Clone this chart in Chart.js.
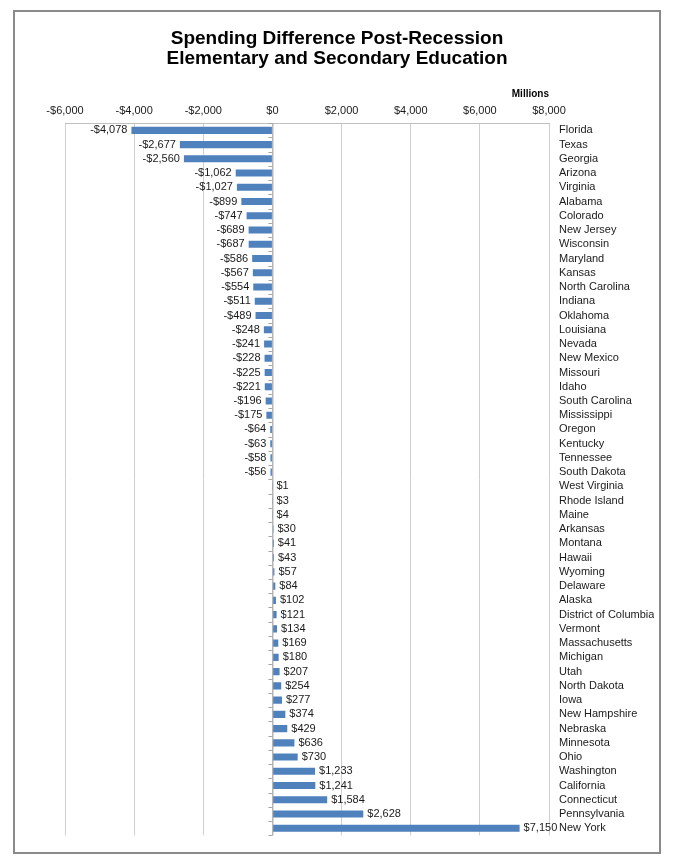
<!DOCTYPE html>
<html lang="en">
<head>
    <meta charset="UTF-8">
    <title>Spending Difference Post-Recession</title>
    <script src="https://cdn.jsdelivr.net/npm/chart.js"></script>
    <style>
        body { margin: 0; padding: 0; background: #fff; font-family: "Liberation Sans", Arial, sans-serif; }
        .box { position: absolute; left: 13px; top: 10px; width: 644px; height: 840px; border: 2px solid #8a8a8a; background: #fff; }
        .box canvas { display: block; }
        .title { position: absolute; left: 0; right: 0; top: 16px; text-align: center; font-size: 19px; font-weight: bold; line-height: 20px; color: #000; pointer-events: none; }
    </style>
</head>
<body>
    <div class="box">
        <canvas id="chart" width="644" height="840"></canvas>
        <div class="title" id="title"></div>
    </div>
    <script>
        // states, top to bottom
        const states = ['Florida', 'Texas', 'Georgia', 'Arizona', 'Virginia', 'Alabama', 'Colorado', 'New Jersey',
            'Wisconsin', 'Maryland', 'Kansas', 'North Carolina', 'Indiana', 'Oklahoma', 'Louisiana', 'Nevada',
            'New Mexico', 'Missouri', 'Idaho', 'South Carolina', 'Mississippi', 'Oregon', 'Kentucky', 'Tennessee',
            'South Dakota', 'West Virginia', 'Rhode Island', 'Maine', 'Arkansas', 'Montana', 'Hawaii', 'Wyoming',
            'Delaware', 'Alaska', 'District of Columbia', 'Vermont', 'Massachusetts', 'Michigan', 'Utah',
            'North Dakota', 'Iowa', 'New Hampshire', 'Nebraska', 'Minnesota', 'Ohio', 'Washington', 'California',
            'Connecticut', 'Pennsylvania', 'New York'];
        // spending difference, millions of dollars
        const difference = [-4078, -2677, -2560, -1062, -1027, -899, -747, -689,
            -687, -586, -567, -554, -511, -489, -248, -241,
            -228, -225, -221, -196, -175, -64, -63, -58,
            -56, 1, 3, 4, 30, 41, 43, 57,
            84, 102, 121, 134, 169, 180, 207,
            254, 277, 374, 429, 636, 730, 1233, 1241,
            1584, 2628, 7150];
        const xMin = -6000;
        const xMax = 8000;
        const xStep = 2000;
        const titleLines = ['Spending Difference Post-Recession', 'Elementary and Secondary Education'];
        const unitLabel = 'Millions';

        const font = '"Liberation Sans", Arial, sans-serif';

        document.getElementById('title').innerHTML = titleLines.join('<br>');

        function money(v) {
            const s = '$' + Math.abs(v).toLocaleString('en-US');
            return v < 0 ? '-' + s : s;
        }

        // category axis drawn at $0 with small ticks between bars
        const zeroAxis = {
            id: 'zeroAxis',
            afterDatasetsDraw(chart) {
                const ctx = chart.ctx;
                const x = chart.scales.x.getPixelForValue(0);
                const y = chart.scales.y;
                const area = chart.chartArea;
                ctx.save();
                ctx.strokeStyle = '#a6a6a6';
                ctx.lineWidth = 1;
                ctx.beginPath();
                ctx.moveTo(x + 0.5, area.top);
                ctx.lineTo(x + 0.5, area.bottom);
                const half = (y.getPixelForValue(1) - y.getPixelForValue(0)) / 2;
                for (let i = 0; i <= states.length; i++) {
                    const ty = Math.round(y.getPixelForValue(i) - half) + 0.5;
                    ctx.moveTo(x - 4, ty);
                    ctx.lineTo(x, ty);
                }
                ctx.stroke();
                ctx.restore();
            }
        };

        // value labels at the end of each bar
        const valueLabels = {
            id: 'valueLabels',
            afterDatasetsDraw(chart) {
                const ctx = chart.ctx;
                const meta = chart.getDatasetMeta(0);
                ctx.save();
                ctx.font = '11px ' + font;
                ctx.fillStyle = '#1a1a1a';
                ctx.textBaseline = 'middle';
                meta.data.forEach((bar, i) => {
                    const v = difference[i];
                    if (v < 0) {
                        ctx.textAlign = 'right';
                        ctx.fillText(money(v), bar.x - 4, bar.y);
                    } else {
                        ctx.textAlign = 'left';
                        ctx.fillText(money(v), bar.x + 4, bar.y);
                    }
                });
                ctx.restore();
            }
        };

        new Chart(document.getElementById('chart'), {
            type: 'bar',
            data: {
                labels: states,
                datasets: [{
                    data: difference,
                    backgroundColor: '#4f81bd',
                    borderWidth: 0,
                    barPercentage: 0.5,
                    categoryPercentage: 1.0
                }]
            },
            options: {
                indexAxis: 'y',
                responsive: false,
                animation: false,
                layout: { padding: { left: 50, right: 5, top: 76, bottom: 9 } },
                plugins: {
                    legend: { display: false },
                    tooltip: { enabled: false },
                    title: { display: false }
                },
                scales: {
                    x: {
                        position: 'top',
                        min: xMin,
                        max: xMax,
                        ticks: {
                            stepSize: xStep,
                            color: '#1a1a1a',
                            font: { family: font, size: 11 },
                            padding: 6,
                            callback: v => money(v)
                        },
                        grid: { color: '#cfcfcf', drawTicks: false },
                        border: { display: true, color: '#c0c0c0' },
                        title: {
                            display: true,
                            text: unitLabel,
                            align: 'end',
                            color: '#000',
                            font: { family: font, size: 10, weight: 'bold' },
                            padding: { top: 0, bottom: -2 }
                        }
                    },
                    y: {
                        position: 'right',
                        grid: { display: false, drawTicks: false },
                        border: { display: false },
                        afterFit: s => { s.width = 105; },
                        ticks: {
                            autoSkip: false,
                            color: '#1a1a1a',
                            font: { family: font, size: 11 },
                            padding: 10
                        }
                    }
                }
            },
            plugins: [zeroAxis, valueLabels]
        });
    </script>
</body>
</html>
